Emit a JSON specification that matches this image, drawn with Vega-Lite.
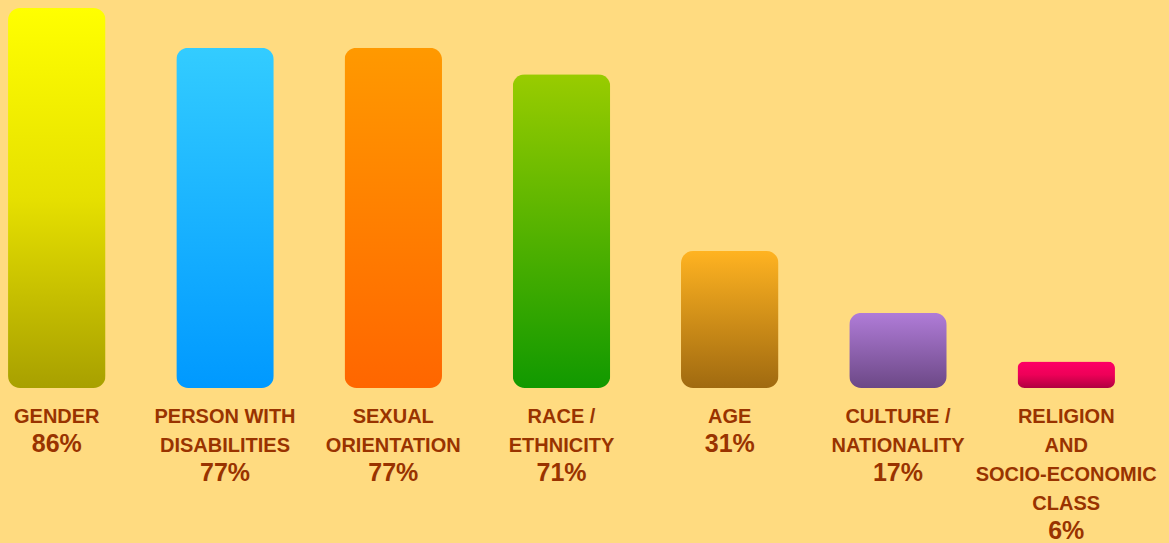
{
  "$schema": "https://vega.github.io/schema/vega-lite/v6.json",
  "autosize": "none",
  "width": 1123,
  "height": 380,
  "padding": {"top": 8, "left": 0, "right": 46, "bottom": 155},
  "background": "#FFDB80",
  "config": {"view": {"stroke": null}},
  "data": {"values": [
    {"category": "Gender", "lines": ["GENDER"], "pct": 86},
    {"category": "Person with Disabilities", "lines": ["PERSON WITH", "DISABILITIES"], "pct": 77},
    {"category": "Sexual Orientation", "lines": ["SEXUAL", "ORIENTATION"], "pct": 77},
    {"category": "Race / Ethnicity", "lines": ["RACE /", "ETHNICITY"], "pct": 71},
    {"category": "Age", "lines": ["AGE"], "pct": 31},
    {"category": "Culture / Nationality", "lines": ["CULTURE /", "NATIONALITY"], "pct": 17},
    {"category": "Religion and Socio-Economic Class", "lines": ["RELIGION", "AND", "SOCIO-ECONOMIC", "CLASS"], "pct": 6}
  ]},
  "transform": [{"calculate": "datum.pct + '%'", "as": "pctText"}],
  "encoding": {
    "x": {"field": "category", "type": "nominal", "sort": null, "axis": null,
          "scale": {"paddingInner": 0.4207, "paddingOuter": 0.0478}},
    "y": {"field": "pct", "type": "quantitative", "axis": null,
          "scale": {"domain": [0, 86], "nice": false, "zero": true}}
  },
  "layer": [
    {"transform": [{"filter": "datum.category == 'Gender'"}],
     "mark": {"type": "bar", "cornerRadius": 12, "color": {"gradient": "linear", "x1": 0, "y1": 0, "x2": 0, "y2": 1,
       "stops": [{"offset": 0, "color": "#FFFF00"}, {"offset": 0.5, "color": "#E6E000"}, {"offset": 1, "color": "#A8A000"}]}}},
    {"transform": [{"filter": "datum.category == 'Person with Disabilities'"}],
     "mark": {"type": "bar", "cornerRadius": 12, "color": {"gradient": "linear", "x1": 0, "y1": 0, "x2": 0, "y2": 1,
       "stops": [{"offset": 0, "color": "#33CCFF"}, {"offset": 1, "color": "#0099FF"}]}}},
    {"transform": [{"filter": "datum.category == 'Sexual Orientation'"}],
     "mark": {"type": "bar", "cornerRadius": 12, "color": {"gradient": "linear", "x1": 0, "y1": 0, "x2": 0, "y2": 1,
       "stops": [{"offset": 0, "color": "#FF9900"}, {"offset": 1, "color": "#FF6600"}]}}},
    {"transform": [{"filter": "datum.category == 'Race / Ethnicity'"}],
     "mark": {"type": "bar", "cornerRadius": 12, "color": {"gradient": "linear", "x1": 0, "y1": 0, "x2": 0, "y2": 1,
       "stops": [{"offset": 0, "color": "#99CC00"}, {"offset": 1, "color": "#119900"}]}}},
    {"transform": [{"filter": "datum.category == 'Age'"}],
     "mark": {"type": "bar", "cornerRadius": 12, "color": {"gradient": "linear", "x1": 0, "y1": 0, "x2": 0, "y2": 1,
       "stops": [{"offset": 0, "color": "#FFB321"}, {"offset": 1, "color": "#A06A10"}]}}},
    {"transform": [{"filter": "datum.category == 'Culture / Nationality'"}],
     "mark": {"type": "bar", "cornerRadius": 12, "color": {"gradient": "linear", "x1": 0, "y1": 0, "x2": 0, "y2": 1,
       "stops": [{"offset": 0, "color": "#B07CD8"}, {"offset": 1, "color": "#6C4886"}]}}},
    {"transform": [{"filter": "datum.category == 'Religion and Socio-Economic Class'"}],
     "mark": {"type": "bar", "cornerRadius": 7, "color": {"gradient": "linear", "x1": 0, "y1": 0, "x2": 0, "y2": 1,
       "stops": [{"offset": 0, "color": "#FF0066"}, {"offset": 0.5, "color": "#EE0058"}, {"offset": 1, "color": "#B00040"}]}}},
    {"mark": {"type": "text", "font": "Liberation Sans", "fontWeight": "bold", "fontSize": 20, "color": "#993300",
              "align": "center", "baseline": "alphabetic", "dy": 35, "lineHeight": 29},
     "encoding": {"y": {"datum": 0, "type": "quantitative"}, "text": {"field": "lines"}}},
    {"transform": [{"filter": "length(datum.lines) == 1"}],
     "mark": {"type": "text", "font": "Liberation Sans", "fontWeight": "bold", "fontSize": 25, "color": "#993300",
              "align": "center", "baseline": "alphabetic", "dy": 64},
     "encoding": {"y": {"datum": 0, "type": "quantitative"}, "text": {"field": "pctText"}}},
    {"transform": [{"filter": "length(datum.lines) == 2"}],
     "mark": {"type": "text", "font": "Liberation Sans", "fontWeight": "bold", "fontSize": 25, "color": "#993300",
              "align": "center", "baseline": "alphabetic", "dy": 93},
     "encoding": {"y": {"datum": 0, "type": "quantitative"}, "text": {"field": "pctText"}}},
    {"transform": [{"filter": "length(datum.lines) == 4"}],
     "mark": {"type": "text", "font": "Liberation Sans", "fontWeight": "bold", "fontSize": 25, "color": "#993300",
              "align": "center", "baseline": "alphabetic", "dy": 151},
     "encoding": {"y": {"datum": 0, "type": "quantitative"}, "text": {"field": "pctText"}}}
  ]
}
